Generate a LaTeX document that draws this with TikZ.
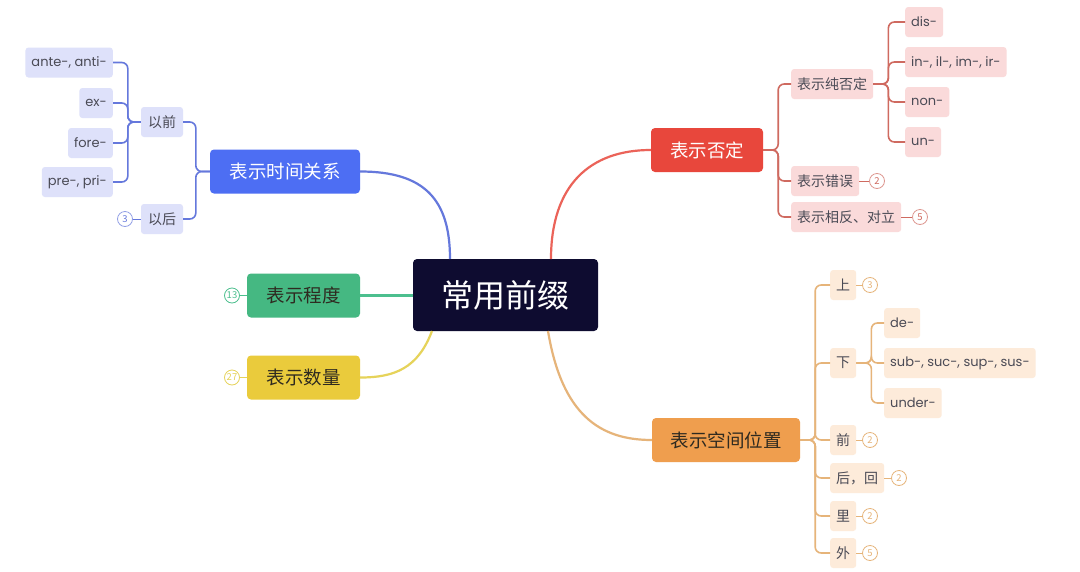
\documentclass[tikz,border=0pt]{standalone}
\usepackage{fontspec}
\setmainfont{Noto Sans CJK SC}
\newfontfamily\latinf{Poppins}
\usetikzlibrary{positioning}
\definecolor{navy}{HTML}{0E0C30}
\definecolor{cblue}{HTML}{4D6EF3}
\definecolor{lblue}{HTML}{DEE1FA}
\definecolor{blueln}{HTML}{6578DC}
\definecolor{cred}{HTML}{E8473C}
\definecolor{lred}{HTML}{FADADA}
\definecolor{redln}{HTML}{CF6A60}
\definecolor{cgreen}{HTML}{45B882}
\definecolor{greenln}{HTML}{4CBF8E}
\definecolor{cyellow}{HTML}{EACB3C}
\definecolor{yellowln}{HTML}{E6D35A}
\definecolor{corange}{HTML}{EF9E4E}
\definecolor{lorange}{HTML}{FDEBDA}
\definecolor{orangeln}{HTML}{E6B47A}
\definecolor{leaftext}{HTML}{4A4A55}
\definecolor{darktext}{HTML}{2E2A20}
\tikzset{
  central/.style={fill=navy, rounded corners=4pt, text=white, font=\fontsize{32}{36}\selectfont, minimum width=185pt, minimum height=72pt, inner sep=0pt},
  mainbox/.style={rounded corners=4pt, font=\fontsize{18.5}{22}\selectfont, minimum height=44pt, inner sep=0pt},
  leaf/.style={rounded corners=3pt, font=\fontsize{14}{16}\selectfont, text=leaftext, minimum height=30pt, inner xsep=6pt, inner ysep=0pt},
  lat/.style={font=\latinf\fontsize{13}{15}\selectfont},
  num/.style={circle, draw, line width=0.8pt, minimum size=15pt, inner sep=0pt, font=\fontsize{9.5}{10}\selectfont},
  tl/.style={line width=1.6pt, rounded corners=6pt},
  ml/.style={line width=2.2pt},
}
\begin{document}
\begin{tikzpicture}[x=1pt,y=-1pt]
\useasboundingbox (0,0) rectangle (1080,571);
\fill[white] (0,0) rectangle (1080,571);

% central
\node[central] (c) at (505.5,295) {常用前缀};

% main branches
\node[mainbox, fill=cblue, text=white, minimum width=150pt] (time) at (285,171.5) {表示时间关系};
\node[mainbox, fill=cgreen, text=darktext, minimum width=113pt] (deg) at (303.5,295.5) {表示程度};
\node[mainbox, fill=cyellow, text=darktext, minimum width=113pt] (qty) at (303.5,377.5) {表示数量};
\node[mainbox, fill=cred, text=white, minimum width=112pt] (neg) at (707,150) {表示否定};
\node[mainbox, fill=corange, text=darktext, minimum width=148pt] (pos) at (726,440) {表示空间位置};

% main connectors
\draw[ml, blueln] (450,259) .. controls (450,200) and (425,171.5) .. (time.east);
\draw[ml, greenln] (c.west |- deg) -- (deg.east);
\draw[ml, yellowln] (432,331) .. controls (418,368) and (395,377.5) .. (qty.east);
\draw[ml, cred!85] (551,259) .. controls (551,185) and (590,150) .. (neg.west);
\draw[ml, orangeln] (548,331) .. controls (562,415) and (600,440) .. (pos.west);

% time subtree
\node[leaf, fill=lblue, minimum width=42pt] (before) at (162,122) {以前};
\node[leaf, fill=lblue, minimum width=42pt] (after) at (162,219) {以后};
\node[leaf, lat, fill=lblue, anchor=east] (ante) at (113,62.5) {ante-, anti-};
\node[leaf, lat, fill=lblue, anchor=east] (ex) at (113,103) {ex-};
\node[leaf, lat, fill=lblue, anchor=east] (fore) at (113,143) {fore-};
\node[leaf, lat, fill=lblue, anchor=east] (pre) at (113,182) {pre-, pri-};
\node[num, draw=blueln!70, text=blueln] (n3a) at (125,219) {3};
\foreach \k in {before,after} \draw[tl, blueln] (time.west) -- ++(-14,0) |- (\k.east);
\foreach \k in {ante,ex,fore,pre} \draw[tl, blueln] (before.west) -- ++(-13,0) |- (\k.east);
\draw[line width=1pt, blueln] (n3a.east) -- (after.west);

% degree / quantity numbers
\node[num, draw=greenln, text=greenln] (n13) at (232,295.5) {13};
\draw[line width=1pt, greenln] (n13.east) -- (deg.west);
\node[num, draw=yellowln, text=yellowln] (n27) at (232,377.5) {27};
\draw[line width=1pt, yellowln] (n27.east) -- (qty.west);

% negation subtree
\node[leaf, fill=lred, anchor=west] (pure) at (791,84) {表示纯否定};
\node[leaf, fill=lred, anchor=west] (wrong) at (791,181) {表示错误};
\node[leaf, fill=lred, anchor=west] (oppo) at (791,217) {表示相反、对立};
\node[leaf, lat, fill=lred, anchor=west] (dis) at (905,22) {dis-};
\node[leaf, lat, fill=lred, anchor=west] (inn) at (905,62) {in-, il-, im-, ir-};
\node[leaf, lat, fill=lred, anchor=west] (non) at (905,102) {non-};
\node[leaf, lat, fill=lred, anchor=west] (un) at (905,142) {un-};
\node[num, draw=redln!70, text=redln] (n2a) at (877,181) {2};
\node[num, draw=redln!70, text=redln] (n5a) at (920,217) {5};
\foreach \k in {pure,wrong,oppo} \draw[tl, redln] (neg.east) -- ++(15,0) |- (\k.west);
\foreach \k in {dis,inn,non,un} \draw[tl, redln] (pure.east) -- ++(15,0) |- (\k.west);
\draw[line width=1pt, redln] (wrong.east) -- (n2a.west);
\draw[line width=1pt, redln] (oppo.east) -- (n5a.west);

% position subtree
\node[leaf, fill=lorange, anchor=west] (up) at (830,285) {上};
\node[leaf, fill=lorange, anchor=west] (down) at (830,363) {下};
\node[leaf, fill=lorange, anchor=west] (front) at (830,440) {前};
\node[leaf, fill=lorange, anchor=west] (back) at (830,478) {后，回};
\node[leaf, fill=lorange, anchor=west] (inside) at (830,516) {里};
\node[leaf, fill=lorange, anchor=west] (outside) at (830,553) {外};
\node[leaf, lat, fill=lorange, anchor=west] (de) at (884,323) {de-};
\node[leaf, lat, fill=lorange, anchor=west] (sub) at (884,363) {sub-, suc-, sup-, sus-};
\node[leaf, lat, fill=lorange, anchor=west] (under) at (884,403) {under-};
\node[num, draw=orangeln, text=orangeln] (n3b) at (870,285) {3};
\node[num, draw=orangeln, text=orangeln] (n2b) at (870,440) {2};
\node[num, draw=orangeln, text=orangeln] (n2c) at (899,478) {2};
\node[num, draw=orangeln, text=orangeln] (n2d) at (870,516) {2};
\node[num, draw=orangeln, text=orangeln] (n5b) at (870,553) {5};
\foreach \k in {up,down,front,back,inside,outside} \draw[tl, orangeln] (pos.east) -- ++(15,0) |- (\k.west);
\foreach \k in {de,sub,under} \draw[tl, orangeln] (down.east) -- ++(15,0) |- (\k.west);
\draw[line width=1pt, orangeln] (up.east) -- (n3b.west);
\draw[line width=1pt, orangeln] (front.east) -- (n2b.west);
\draw[line width=1pt, orangeln] (back.east) -- (n2c.west);
\draw[line width=1pt, orangeln] (inside.east) -- (n2d.west);
\draw[line width=1pt, orangeln] (outside.east) -- (n5b.west);
\end{tikzpicture}
\end{document}
